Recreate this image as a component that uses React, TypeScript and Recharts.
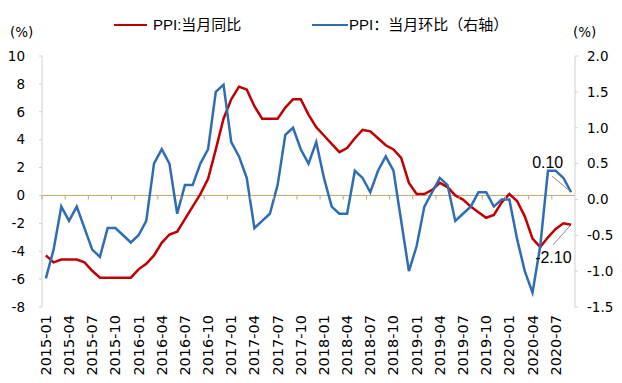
import React from 'react';
import { LineChart, Line, XAxis, YAxis, ReferenceLine, LabelList } from 'recharts';

const months: string[] = [
  '2015-01','2015-02','2015-03','2015-04','2015-05','2015-06','2015-07','2015-08','2015-09','2015-10','2015-11','2015-12',
  '2016-01','2016-02','2016-03','2016-04','2016-05','2016-06','2016-07','2016-08','2016-09','2016-10','2016-11','2016-12',
  '2017-01','2017-02','2017-03','2017-04','2017-05','2017-06','2017-07','2017-08','2017-09','2017-10','2017-11','2017-12',
  '2018-01','2018-02','2018-03','2018-04','2018-05','2018-06','2018-07','2018-08','2018-09','2018-10','2018-11','2018-12',
  '2019-01','2019-02','2019-03','2019-04','2019-05','2019-06','2019-07','2019-08','2019-09','2019-10','2019-11','2019-12',
  '2020-01','2020-02','2020-03','2020-04','2020-05','2020-06','2020-07','2020-08','2020-09',
];

// PPI: 当月同比 (left axis, %)
const ppiYoy: number[] = [
  -4.3, -4.8, -4.6, -4.6, -4.6, -4.8, -5.4, -5.9, -5.9, -5.9, -5.9, -5.9,
  -5.3, -4.9, -4.3, -3.4, -2.8, -2.6, -1.7, -0.8, 0.1, 1.2, 3.3, 5.5,
  6.9, 7.8, 7.6, 6.4, 5.5, 5.5, 5.5, 6.3, 6.9, 6.9, 5.8, 4.9,
  4.3, 3.7, 3.1, 3.4, 4.1, 4.7, 4.6, 4.1, 3.6, 3.3, 2.7, 0.9,
  0.1, 0.1, 0.4, 0.9, 0.6, 0.0, -0.3, -0.8, -1.2, -1.6, -1.4, -0.5,
  0.1, -0.4, -1.5, -3.1, -3.7, -3.0, -2.4, -2.0, -2.1,
];

// PPI: 当月环比 (right axis, %)
const ppiMom: number[] = [
  -1.1, -0.7, -0.1, -0.3, -0.1, -0.4, -0.7, -0.8, -0.4, -0.4, -0.5, -0.6,
  -0.5, -0.3, 0.5, 0.7, 0.5, -0.2, 0.2, 0.2, 0.5, 0.7, 1.5, 1.6,
  0.8, 0.6, 0.3, -0.4, -0.3, -0.2, 0.2, 0.9, 1.0, 0.7, 0.5, 0.8,
  0.3, -0.1, -0.2, -0.2, 0.4, 0.3, 0.1, 0.4, 0.6, 0.4, -0.3, -1.0,
  -0.65, -0.1, 0.1, 0.3, 0.2, -0.3, -0.2, -0.1, 0.1, 0.1, -0.1, 0.0,
  0.0, -0.55, -1.0, -1.3, -0.65, 0.4, 0.4, 0.3, 0.1,
];

const leftTicks: number[] = [-8, -6, -4, -2, 0, 2, 4, 6, 8, 10];
const rightTicks: number[] = [-1.5, -1.0, -0.5, 0, 0.5, 1.0, 1.5, 2.0];

const yoyName = 'PPI:当月同比';
const momName = 'PPI：当月环比（右轴）';
const lastMomLabel = '0.10';
const lastYoyLabel = '-2.10';

const data = months.map((m, i) => ({ month: m, yoy: ppiYoy[i], mom: ppiMom[i] }));

const W = 622;
const H = 383;
const TOP = 56;
const PLOT_H = 251;
const LEFT_W = 42;
const RIGHT_W = 47;
const PLOT_W = W - LEFT_W - RIGHT_W;
const CAT_W = PLOT_W / months.length;
const ZERO_Y = TOP + (PLOT_H * 10) / 18;
const LABEL_TOP = 315;

const RED = '#C00000';
const BLUE = '#2E6DB4';
const ZERO_COLOR = '#BFA872';
const AXIS_COLOR = '#D0D0D0';
const FONT = '"DejaVu Sans", "Noto Sans CJK SC", sans-serif';
const LEGEND_FONT = '"Liberation Sans", Arial, "Noto Sans CJK SC", sans-serif';

const XTick = (props: any) => {
  const { x, payload } = props;
  const bx = x - CAT_W / 2;
  return (
    <g>
      <line x1={bx} y1={ZERO_Y} x2={bx} y2={ZERO_Y + 4} stroke={ZERO_COLOR} strokeWidth={1} />
      <text
        x={x}
        y={LABEL_TOP}
        transform={`rotate(-90, ${x}, ${LABEL_TOP})`}
        textAnchor="end"
        dominantBaseline="central"
        fontFamily={FONT}
        fontSize={14.5}
        fill="#000"
      >
        {payload.value}
      </text>
    </g>
  );
};

const makeEndLabel = (text: string, lastIndex: number, dx: number, dy: number, lx: number, ly: number) =>
  (props: any) => {
    const { x, y, index } = props;
    if (index !== lastIndex) return null;
    return (
      <g>
        <line x1={x + lx} y1={y + ly} x2={x - 1} y2={y + (ly > 0 ? 1 : -1)} stroke="#888" strokeWidth={1} />
        <text x={x + dx} y={y + dy} fontFamily={LEGEND_FONT} fontSize={16} fill="#000">
          {text}
        </text>
      </g>
    );
  };

const LegendBox = () => (
  <div style={{ position: 'absolute', left: 0, top: 0, width: W, height: 40, fontFamily: LEGEND_FONT, fontSize: 15, color: '#000' }}>
    <div style={{ position: 'absolute', left: 114, top: 24, width: 33, height: 0, borderTop: `2.5px solid ${RED}` }} />
    <div style={{ position: 'absolute', left: 153, top: 15, whiteSpace: 'nowrap', lineHeight: '20px' }}>{yoyName}</div>
    <div style={{ position: 'absolute', left: 312, top: 24, width: 36, height: 0, borderTop: `2.5px solid ${BLUE}` }} />
    <div style={{ position: 'absolute', left: 349, top: 15, whiteSpace: 'nowrap', lineHeight: '20px' }}>{momName}</div>
  </div>
);

export default function App() {
  const last = months.length - 1;
  return (
    <div style={{ position: 'absolute', left: 0, top: 0, width: W, height: H, background: '#fff' }}>
      <LineChart width={W} height={H} data={data} margin={{ top: TOP, right: 0, bottom: 0, left: 0 }}>
        <XAxis
          dataKey="month"
          interval={2}
          height={H - TOP - PLOT_H}
          padding={{ left: CAT_W / 2, right: CAT_W / 2 }}
          axisLine={false}
          tickLine={false}
          tick={<XTick />}
        />
        <YAxis
          yAxisId="left"
          domain={[-8, 10]}
          ticks={leftTicks}
          width={LEFT_W}
          tickSize={3}
          tickMargin={14}
          axisLine={{ stroke: AXIS_COLOR }}
          tickLine={{ stroke: AXIS_COLOR }}
          tick={{ fontFamily: FONT, fontSize: 13.5, fill: '#000' }}
          interval={0}
        />
        <YAxis
          yAxisId="right"
          orientation="right"
          domain={[-1.5, 2]}
          ticks={rightTicks}
          width={RIGHT_W}
          tickSize={3}
          tickMargin={9}
          axisLine={{ stroke: AXIS_COLOR }}
          tickLine={{ stroke: AXIS_COLOR }}
          tick={{ fontFamily: FONT, fontSize: 13.5, fill: '#000', textAnchor: 'start' }}
          tickFormatter={(v: number) => v.toFixed(1)}
          interval={0}
        />
        <ReferenceLine yAxisId="left" y={0} stroke={ZERO_COLOR} strokeWidth={1} />
        <Line
          yAxisId="left"
          dataKey="yoy"
          name={yoyName}
          stroke={RED}
          strokeWidth={2.5}
          dot={false}
          isAnimationActive={false}
        >
          <LabelList dataKey="yoy" content={makeEndLabel(lastYoyLabel, last, -36, 38, -18, 20)} />
        </Line>
        <Line
          yAxisId="right"
          dataKey="mom"
          name={momName}
          stroke={BLUE}
          strokeWidth={2.5}
          dot={false}
          isAnimationActive={false}
        >
          <LabelList dataKey="mom" content={makeEndLabel(lastMomLabel, last, -39, -24, -19, -16)} />
        </Line>
      </LineChart>
      <LegendBox />
      <div style={{ position: 'absolute', left: 10, top: 24, fontFamily: FONT, fontSize: 13.5, lineHeight: '16px' }}>(%)</div>
      <div style={{ position: 'absolute', left: 573, top: 24, fontFamily: FONT, fontSize: 13.5, lineHeight: '16px' }}>(%)</div>
    </div>
  );
}
